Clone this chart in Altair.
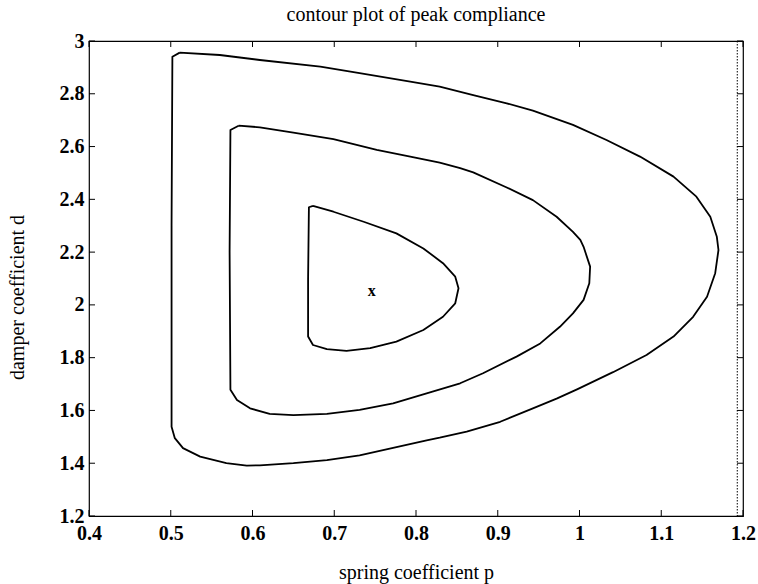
import altair as alt
import pandas as pd

# ---- data ----
outer_p = [0.511, 0.560, 0.609, 0.683, 0.731, 0.793, 0.829, 0.870, 0.911, 0.943, 0.992, 1.033, 1.074,
           1.115, 1.143, 1.160, 1.168, 1.170, 1.166, 1.156, 1.139, 1.115, 1.082, 1.041, 0.997, 0.972,
           0.943, 0.903, 0.862, 0.829, 0.813, 0.772, 0.731, 0.691, 0.650, 0.609, 0.593, 0.568, 0.536,
           0.515, 0.505, 0.501, 0.501, 0.501, 0.502, 0.511]
outer_d = [2.956, 2.947, 2.928, 2.903, 2.878, 2.846, 2.827, 2.795, 2.764, 2.736, 2.682, 2.625, 2.562,
           2.486, 2.410, 2.334, 2.258, 2.208, 2.120, 2.031, 1.955, 1.880, 1.810, 1.745, 1.680, 1.645,
           1.608, 1.557, 1.520, 1.497, 1.487, 1.458, 1.430, 1.412, 1.400, 1.392, 1.391, 1.400, 1.425,
           1.457, 1.495, 1.538, 1.589, 2.300, 2.940, 2.956]

middle_p = [0.583, 0.609, 0.650, 0.699, 0.752, 0.793, 0.829, 0.854, 0.870, 0.911, 0.943, 0.972, 0.992,
            1.001, 1.005, 1.013, 1.012, 1.005, 0.992, 0.976, 0.952, 0.923, 0.882, 0.854, 0.813, 0.772,
            0.731, 0.691, 0.650, 0.621, 0.597, 0.581, 0.573, 0.572, 0.573, 0.583]
middle_d = [2.679, 2.673, 2.653, 2.628, 2.587, 2.562, 2.539, 2.518, 2.502, 2.445, 2.397, 2.334, 2.277,
            2.246, 2.220, 2.145, 2.082, 2.019, 1.968, 1.917, 1.854, 1.804, 1.741, 1.703, 1.665, 1.627,
            1.602, 1.587, 1.582, 1.587, 1.608, 1.640, 1.678, 2.200, 2.663, 2.679]

inner_p = [0.674, 0.699, 0.736, 0.776, 0.809, 0.833, 0.848, 0.852, 0.848, 0.833, 0.809, 0.776, 0.744,
           0.715, 0.691, 0.674, 0.668, 0.668, 0.669, 0.674]
inner_d = [2.375, 2.353, 2.315, 2.271, 2.214, 2.158, 2.107, 2.063, 2.006, 1.955, 1.905, 1.861, 1.836,
           1.826, 1.832, 1.848, 1.880, 2.100, 2.370, 2.375]

optimum_p = [0.746]
optimum_d = [2.044]

dotted_p = [1.193]

x_ticks = [0.4, 0.5, 0.6, 0.7, 0.8, 0.9, 1.0, 1.1, 1.2]
y_ticks = [1.2, 1.4, 1.6, 1.8, 2.0, 2.2, 2.4, 2.6, 2.8, 3.0]

W, H = 654, 475
FONT = "Liberation Serif"

rows = []
for name, ps, ds in [("outer", outer_p, outer_d), ("middle", middle_p, middle_d), ("inner", inner_p, inner_d)]:
    for i, (p, d) in enumerate(zip(ps, ds)):
        rows.append({"level": name, "order": i, "p": p, "d": d})
contours = pd.DataFrame(rows)

xscale = alt.Scale(domain=[0.4, 1.2], nice=False, zero=False)
yscale = alt.Scale(domain=[1.2, 3.0], nice=False, zero=False)

common = dict(grid=False, ticks=False, domain=False,
              labelFont=FONT, labelFontSize=20, labelFontWeight="bold", labelColor="black",
              titleFont=FONT, titleFontSize=20, titleFontWeight="normal", titleColor="black")

xaxis = alt.Axis(values=x_ticks, format="~g", title="spring coefficient  p",
                 titleY=56, titleBaseline="middle", labelPadding=7, labelFlush=False, **common)
yaxis = alt.Axis(values=y_ticks, format="~g", title="damper coefficient  d",
                 titleX=-72, titleY=256, titleAngle=270, titleAlign="center",
                 titleBaseline="middle", labelPadding=5, labelFlush=False, **common)

lines = alt.Chart(contours).mark_line(color="black", strokeWidth=1.8, interpolate="linear",
                                      strokeJoin="round").encode(
    x=alt.X("p:Q", scale=xscale, axis=xaxis),
    y=alt.Y("d:Q", scale=yscale, axis=yaxis),
    detail="level:N",
    order="order:Q",
)

opt = alt.Chart(pd.DataFrame({"p": optimum_p, "d": optimum_d})).mark_text(
    text="x", font=FONT, fontSize=16, fontWeight="bold", color="black", baseline="middle", dy=-2
).encode(x="p:Q", y="d:Q")

dotted = alt.Chart(pd.DataFrame({"p": dotted_p})).mark_rule(
    color="black", strokeWidth=1, strokeDash=[1.5, 1.5]
).encode(x="p:Q")

xt = pd.DataFrame({"p": x_ticks})
yt = pd.DataFrame({"d": y_ticks})
TL = 6
tick_bottom = alt.Chart(xt).mark_rule(color="black").encode(x="p:Q", y=alt.value(H), y2=alt.value(H - TL))
tick_top = alt.Chart(xt).mark_rule(color="black").encode(x="p:Q", y=alt.value(0), y2=alt.value(TL))
tick_left = alt.Chart(yt).mark_rule(color="black").encode(y="d:Q", x=alt.value(0), x2=alt.value(TL))
tick_right = alt.Chart(yt).mark_rule(color="black").encode(y="d:Q", x=alt.value(W), x2=alt.value(W - TL))

chart = alt.layer(lines, opt, dotted, tick_bottom, tick_top, tick_left, tick_right).properties(
    width=W, height=H,
    title=alt.TitleParams("contour plot of peak compliance", font=FONT, fontSize=20,
                          fontWeight="normal", color="black", anchor="middle",
                          frame="group", offset=6),
    autosize=alt.AutoSizeParams(type="none"),
    padding={"left": 89, "top": 41, "right": 15, "bottom": 68},
).configure_view(
    stroke="black", strokeWidth=1.2
)

chart.save("out.html", embed_options={"renderer": "svg", "actions": False})
